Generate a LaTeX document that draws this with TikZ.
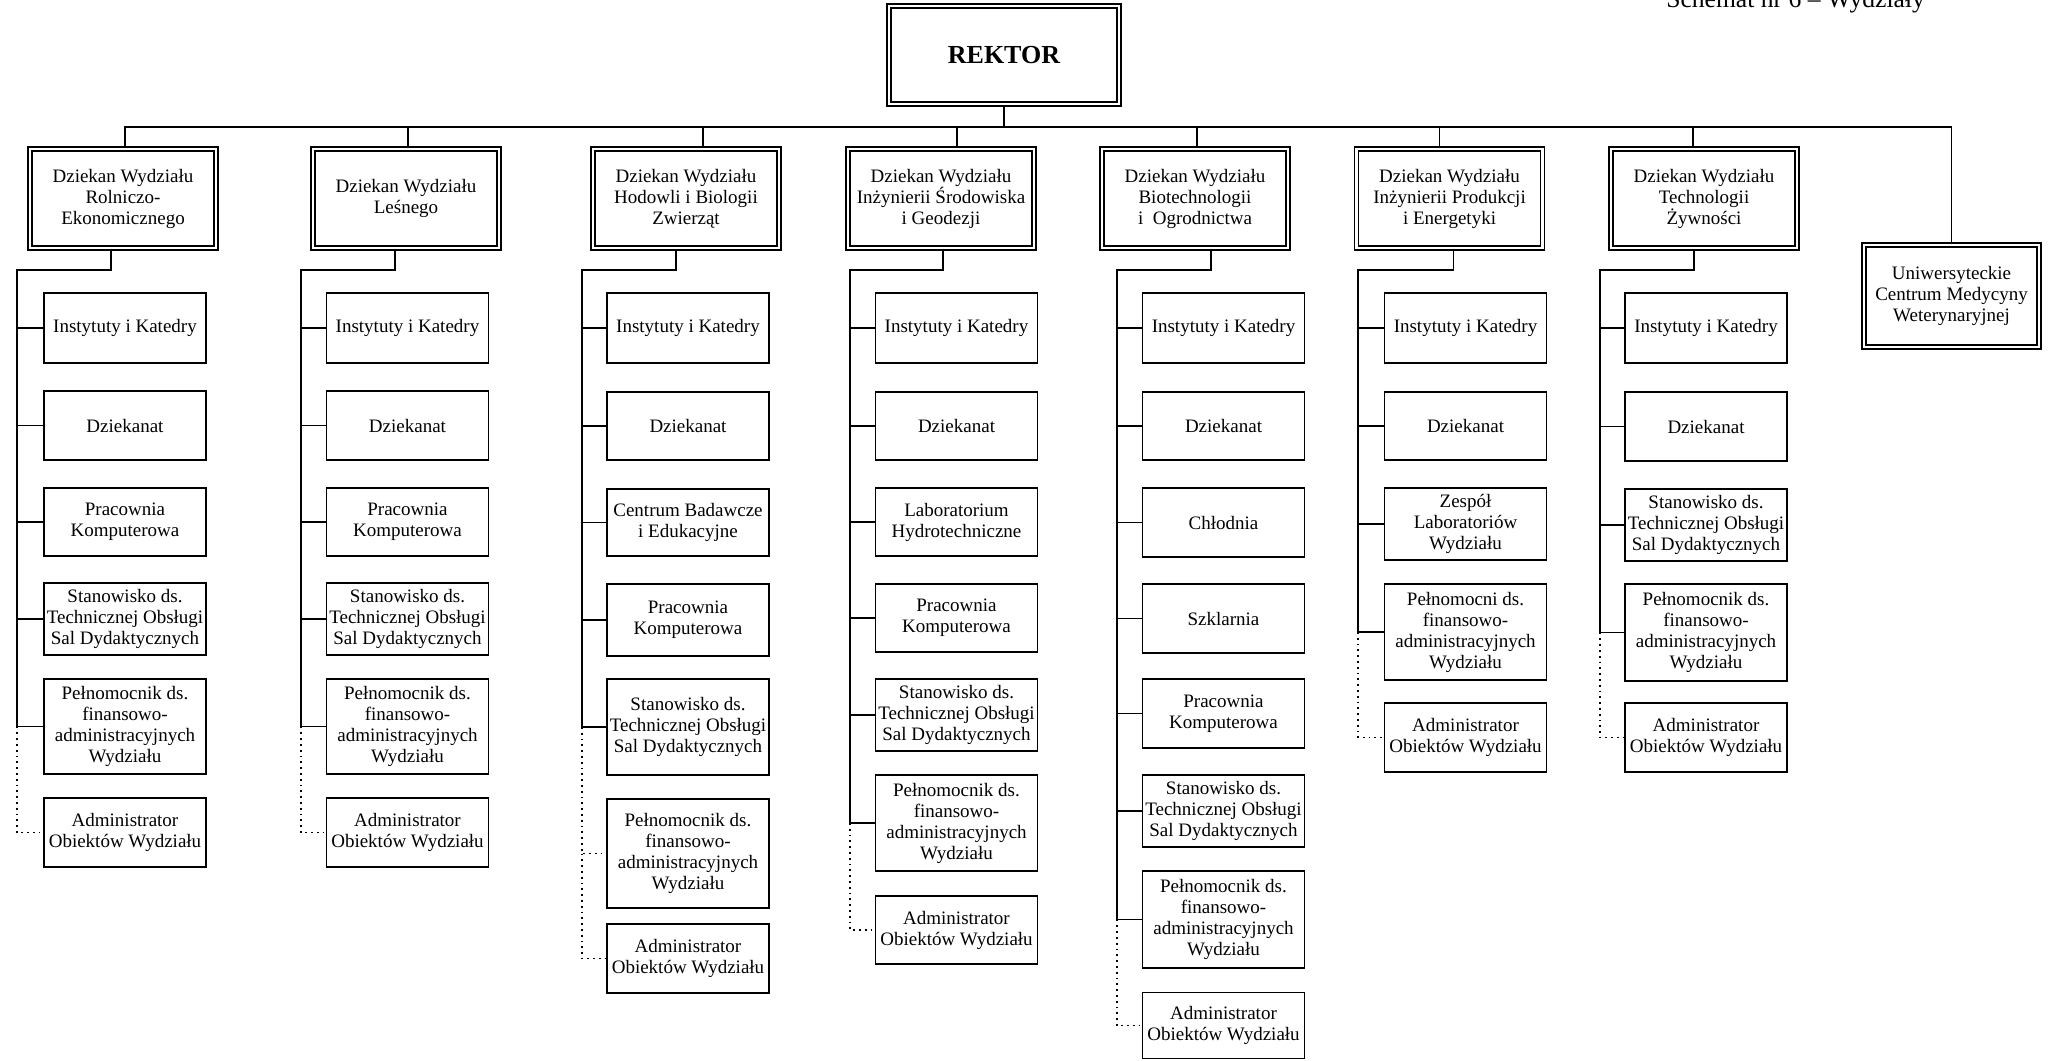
\documentclass[tikz,border=0pt]{standalone}
\usepackage{fontspec}
\setmainfont{Liberation Serif}
\usepackage{tikz}

\tikzset{
	unit/.style={draw, line width=0.9pt, align=center, inner sep=0pt, minimum width=81pt, font=\fontsize{9.5}{10.5}\selectfont},
	dean/.style={unit, double, line width=0.7pt, double distance=1.2pt, minimum width=93pt, minimum height=49.5pt},
	head/.style={draw, double, line width=1pt, double distance=1.2pt, minimum width=115pt, minimum height=49pt, font=\fontsize{13}{15}\selectfont\bfseries},
	conn/.style={line width=0.9pt},
	aux/.style={line width=0.9pt, dotted},
}

\begin{document}
\begin{tikzpicture}[x=0.5pt, y=-0.5pt]
\useasboundingbox (0,0) rectangle (2049,1060);

\node[anchor=base east, font=\fontsize{12.8}{14}\selectfont] (title) at (1932,7) {Schemat nr 6 -- Wydziały};

\node[head] (rektor) at (1004,55) {REKTOR};
\coordinate (bus) at (1004,127);

% dziekani
\node[dean] (d1) at (123,198.5) {Dziekan Wydziału\\Rolniczo-\\Ekonomicznego};
\node[dean] (d2) at (406,198.5) {Dziekan Wydziału\\Leśnego};
\node[dean] (d3) at (686,198.5) {Dziekan Wydziału\\Hodowli i Biologii\\Zwierząt};
\node[dean] (d4) at (941,198.5) {Dziekan Wydziału\\Inżynierii Środowiska\\i Geodezji};
\node[dean] (d5) at (1195,198.5) {Dziekan Wydziału\\Biotechnologii\\i~ Ogrodnictwa};
\node[dean] (d6) at (1449.5,198.5) {Dziekan Wydziału\\Inżynierii Produkcji\\i Energetyki};
\node[dean] (d7) at (1704,198.5) {Dziekan Wydziału\\Technologii\\Żywności};
\node[dean, minimum width=87.5pt, minimum height=51pt] (ucmw) at (1951.5,296) {Uniwersyteckie\\Centrum Medycyny\\Weterynaryjnej};

% Rolniczo-Ekonomiczny
\node[unit, minimum height=35pt] (c1-1) at (125,328) {Instytuty i Katedry};
\node[unit, minimum height=34.5pt] (c1-2) at (125,425.5) {Dziekanat};
\node[unit, minimum height=34pt] (c1-3) at (125,522) {Pracownia\\Komputerowa};
\node[unit, minimum height=36pt] (c1-4) at (125,619) {Stanowisko ds.\\Technicznej Obsługi\\Sal Dydaktycznych};
\node[unit, minimum height=47.5pt] (c1-5) at (125,726.5) {Pełnomocnik ds.\\finansowo-\\administracyjnych\\Wydziału};
\node[unit, minimum height=34.5pt] (c1-6) at (125,832.5) {Administrator\\Obiektów Wydziału};

% Lesny
\node[unit, minimum height=35pt] (c2-1) at (407.5,328) {Instytuty i Katedry};
\node[unit, minimum height=34.5pt] (c2-2) at (407.5,425.5) {Dziekanat};
\node[unit, minimum height=34pt] (c2-3) at (407.5,522) {Pracownia\\Komputerowa};
\node[unit, minimum height=36pt] (c2-4) at (407.5,619) {Stanowisko ds.\\Technicznej Obsługi\\Sal Dydaktycznych};
\node[unit, minimum height=47.5pt] (c2-5) at (407.5,726.5) {Pełnomocnik ds.\\finansowo-\\administracyjnych\\Wydziału};
\node[unit, minimum height=34.5pt] (c2-6) at (407.5,832.5) {Administrator\\Obiektów Wydziału};

% Hodowli i Biologii Zwierzat
\node[unit, minimum height=35pt] (c3-1) at (688,328) {Instytuty i Katedry};
\node[unit, minimum height=34pt] (c3-2) at (688,426) {Dziekanat};
\node[unit, minimum height=33.5pt] (c3-3) at (688,522.5) {Centrum Badawcze\\i Edukacyjne};
\node[unit, minimum height=36pt] (c3-4) at (688,620) {Pracownia\\Komputerowa};
\node[unit, minimum height=48pt] (c3-5) at (688,727) {Stanowisko ds.\\Technicznej Obsługi\\Sal Dydaktycznych};
\node[unit, minimum height=54.5pt] (c3-6) at (688,853.5) {Pełnomocnik ds.\\finansowo-\\administracyjnych\\Wydziału};
\node[unit, minimum height=34.5pt] (c3-7) at (688,958.5) {Administrator\\Obiektów Wydziału};

% Inzynierii Srodowiska i Geodezji
\node[unit, minimum height=35pt] (c4-1) at (956.5,328) {Instytuty i Katedry};
\node[unit, minimum height=34pt] (c4-2) at (956.5,426) {Dziekanat};
\node[unit, minimum height=34pt] (c4-3) at (956.5,522) {Laboratorium\\Hydrotechniczne};
\node[unit, minimum height=34pt] (c4-4) at (956.5,618) {Pracownia\\Komputerowa};
\node[unit, minimum height=36pt] (c4-5) at (956.5,715) {Stanowisko ds.\\Technicznej Obsługi\\Sal Dydaktycznych};
\node[unit, minimum height=48pt] (c4-6) at (956.5,823) {Pełnomocnik ds.\\finansowo-\\administracyjnych\\Wydziału};
\node[unit, minimum height=34pt] (c4-7) at (956.5,930) {Administrator\\Obiektów Wydziału};

% Biotechnologii i Ogrodnictwa
\node[unit, minimum height=35pt] (c5-1) at (1223.5,328) {Instytuty i Katedry};
\node[unit, minimum height=34pt] (c5-2) at (1223.5,426) {Dziekanat};
\node[unit, minimum height=34.5pt] (c5-3) at (1223.5,522.5) {Chłodnia};
\node[unit, minimum height=34.5pt] (c5-4) at (1223.5,618.5) {Szklarnia};
\node[unit, minimum height=34.5pt] (c5-5) at (1223.5,713.5) {Pracownia\\Komputerowa};
\node[unit, minimum height=36pt] (c5-6) at (1223.5,811) {Stanowisko ds.\\Technicznej Obsługi\\Sal Dydaktycznych};
\node[unit, minimum height=48.5pt] (c5-7) at (1223.5,919.5) {Pełnomocnik ds.\\finansowo-\\administracyjnych\\Wydziału};
\node[unit, minimum height=33pt] (c5-8) at (1223.5,1025.5) {Administrator\\Obiektów Wydziału};

% Inzynierii Produkcji i Energetyki
\node[unit, minimum height=35pt] (c6-1) at (1465.5,328) {Instytuty i Katedry};
\node[unit, minimum height=34pt] (c6-2) at (1465.5,426) {Dziekanat};
\node[unit, minimum height=36pt] (c6-3) at (1465.5,524) {Zespół\\Laboratoriów\\Wydziału};
\node[unit, minimum height=48pt] (c6-4) at (1465.5,632) {Pełnomocni ds.\\finansowo-\\administracyjnych\\Wydziału};
\node[unit, minimum height=34.5pt] (c6-5) at (1465.5,737.5) {Administrator\\Obiektów Wydziału};

% Technologii Zywnosci
\node[unit, minimum height=35pt] (c7-1) at (1706,328) {Instytuty i Katedry};
\node[unit, minimum height=34.5pt] (c7-2) at (1706,426.5) {Dziekanat};
\node[unit, minimum height=36pt] (c7-3) at (1706,525) {Stanowisko ds.\\Technicznej Obsługi\\Sal Dydaktycznych};
\node[unit, minimum height=48.5pt] (c7-4) at (1706,632.5) {Pełnomocnik ds.\\finansowo-\\administracyjnych\\Wydziału};
\node[unit, minimum height=34.5pt] (c7-5) at (1706,737.5) {Administrator\\Obiektów Wydziału};

% spines
\coordinate (s1) at (17,270);
\coordinate (s2) at (301,270);
\coordinate (s3) at (582,270);
\coordinate (s4) at (850,270);
\coordinate (s5) at (1117,270);
\coordinate (s6) at (1358,270);
\coordinate (s7) at (1600,270);

\draw[conn] (rektor) -- (bus);
\foreach \c/\t in {1/1, 2/1, 3/8.5, 4/8, 5/1, 6/-5, 7/-5.5}
	\draw[conn] ([xshift=\t pt]d\c.north) |- (bus);
\draw[conn] (ucmw.north) |- (bus);

\foreach \c/\m/\b in {1/5/-6, 2/5/-5.5, 3/5/-5, 4/6/1, 5/7/8, 6/4/2, 7/4/-5} {
	\draw[conn] ([xshift=\b pt]d\c.south) |- (s\c) -- (s\c |- c\c-\m.west);
	\foreach \i in {1,...,\m}
		\draw[conn] (s\c |- c\c-\i.west) -- (c\c-\i.west);
}

\foreach \c/\m/\n in {1/5/6, 2/5/6, 3/5/6, 3/6/7, 4/6/7, 5/7/8, 6/4/5, 7/4/5}
	\draw[aux] (s\c |- c\c-\m.west) |- (c\c-\n.west);
\end{tikzpicture}
\end{document}
